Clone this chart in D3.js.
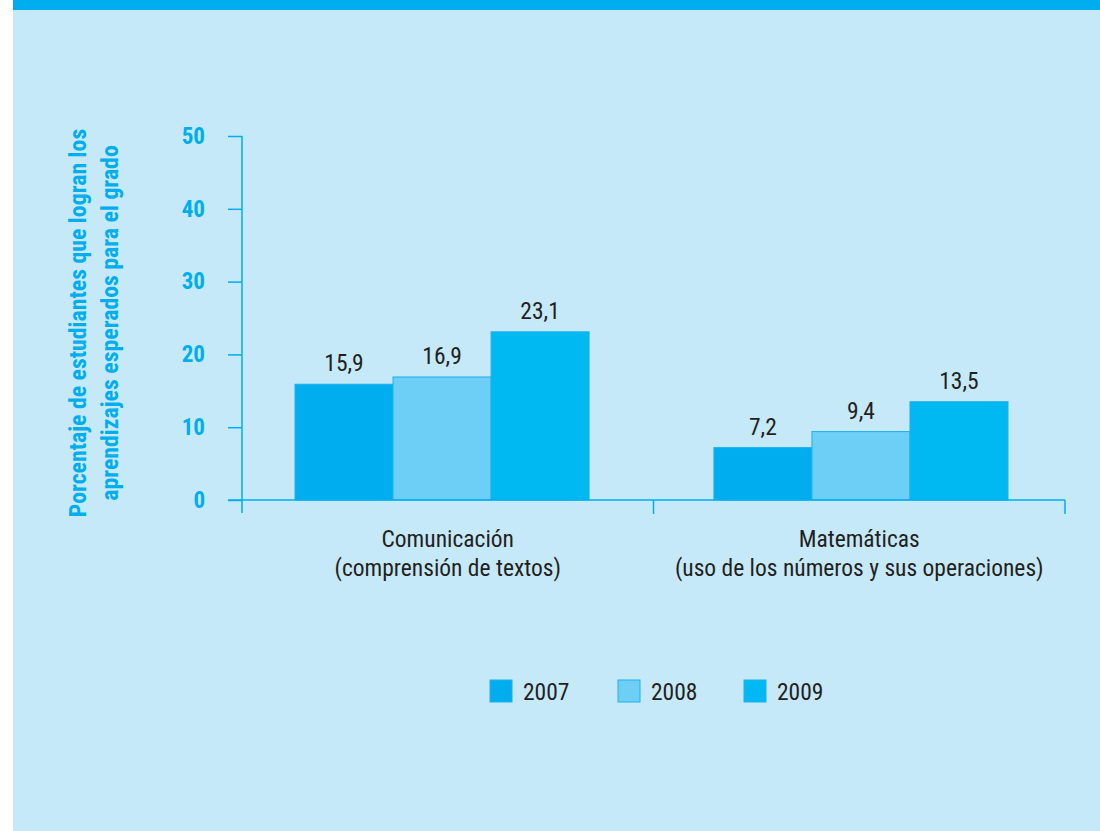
<!DOCTYPE html>
<html>
<head>
<meta charset="utf-8">
<script src="https://cdn.jsdelivr.net/npm/d3@7"></script>
<style>
  body { margin: 0; background: #ffffff; }
  text { font-family: "Liberation Sans Narrow", "Arial Narrow", "Roboto Condensed", sans-serif; }
</style>
</head>
<body>
<script>

// Data
var categories = ["Comunicación|(comprensión de textos)", "Matemáticas|(uso de los números y sus operaciones)"];
var years = ["2007", "2008", "2009"];
var values2007 = [15.9, 7.2];
var values2008 = [16.9, 9.4];
var values2009 = [23.1, 13.5];
var yTicks = [0, 10, 20, 30, 40, 50];

drawChart();

function drawChart(){

  var w = 1100;
  var h = 831;
  var cyan = "#00AEEF";
  var dark = "#231F20";
  var colors = {"2007": "#00AEEF", "2008": "#6DCFF6", "2009": "#00B9F2"};

  var svg = d3.select("body")
              .append("svg")
              .attr("width", w)
              .attr("height", h);

  // Panel background and top stripe
  svg.append("rect")
     .attr("x", 13).attr("y", 0)
     .attr("width", w - 13).attr("height", h)
     .attr("fill", "#C6E9F9");

  svg.append("rect")
     .attr("x", 13).attr("y", 0)
     .attr("width", w - 13).attr("height", 10)
     .attr("fill", cyan);

  // Build rows from the arrays
  var data = categories.map(function(c, i){
    return {cat: c, vals: [
      {year: "2007", v: values2007[i]},
      {year: "2008", v: values2008[i]},
      {year: "2009", v: values2009[i]}
    ]};
  });

  // Scales
  var yScale = d3.scaleLinear()
                 .domain([0, 50])
                 .range([500, 136]);

  // axis bands (ticks and labels)
  var x0 = d3.scaleBand()
             .domain(categories)
             .range([242, 1065])
             .paddingInner(0)
             .paddingOuter(0);

  // bar groups
  var xg = d3.scaleBand()
             .domain(categories)
             .range([295, 1008])
             .paddingInner(0.298)
             .paddingOuter(0);

  var x1 = d3.scaleBand()
             .domain(years)
             .range([0, xg.bandwidth()]);

  // Y axis
  var yAxis = svg.append("g")
                 .attr("transform", "translate(242, 0)")
                 .call(d3.axisLeft(yScale)
                         .tickValues(yTicks)
                         .tickSize(14)
                         .tickPadding(23));

  yAxis.select(".domain").remove();
  yAxis.selectAll("line").attr("stroke", cyan).attr("stroke-width", 1.5);
  yAxis.selectAll("text")
       .attr("fill", cyan)
       .attr("font-size", 23)
       .attr("font-weight", "bold")
       .attr("font-family", "Liberation Sans Narrow, Arial Narrow, sans-serif");

  svg.append("line")
     .attr("x1", 242).attr("x2", 242)
     .attr("y1", yScale(50)).attr("y2", 513)
     .attr("stroke", cyan).attr("stroke-width", 1.5);

  // Bars
  var groups = svg.selectAll(".group")
                  .data(data)
                  .enter()
                  .append("g")
                  .attr("class", "group")
                  .attr("transform", function(d){ return "translate(" + xg(d.cat) + ",0)"; });

  groups.selectAll("rect")
        .data(function(d){ return d.vals; })
        .enter()
        .append("rect")
        .attr("x", function(d){ return x1(d.year); })
        .attr("y", function(d){ return yScale(d.v); })
        .attr("width", x1.bandwidth())
        .attr("height", function(d){ return yScale(0) - yScale(d.v); })
        .attr("fill", function(d){ return colors[d.year]; })
        .attr("stroke", "#1FB1EC")
        .attr("stroke-width", 1);

  groups.selectAll(".val")
        .data(function(d){ return d.vals; })
        .enter()
        .append("text")
        .attr("class", "val")
        .attr("x", function(d){ return x1(d.year) + x1.bandwidth() / 2; })
        .attr("y", function(d){ return yScale(d.v) - 13; })
        .attr("text-anchor", "middle")
        .attr("font-size", 23.5)
        .attr("fill", dark)
        .text(function(d){ return String(d.v).replace(".", ","); });

  // X axis line and ticks
  svg.append("line")
     .attr("x1", 228).attr("x2", 1065)
     .attr("y1", yScale(0)).attr("y2", yScale(0))
     .attr("stroke", cyan).attr("stroke-width", 1.5);

  var edges = categories.map(function(c){ return x0(c); }).concat([x0.range()[1]]);
  svg.selectAll(".xtick")
     .data(edges.slice(1))
     .enter()
     .append("line")
     .attr("class", "xtick")
     .attr("x1", function(d){ return d; }).attr("x2", function(d){ return d; })
     .attr("y1", yScale(0)).attr("y2", 514)
     .attr("stroke", cyan).attr("stroke-width", 1.5);

  // Category labels (two lines)
  var catLabels = svg.selectAll(".cat")
                     .data(categories)
                     .enter()
                     .append("text")
                     .attr("class", "cat")
                     .attr("text-anchor", "middle")
                     .attr("font-size", 23.5)
                     .attr("fill", dark);

  catLabels.selectAll("tspan")
           .data(function(c){ return c.split("|").map(function(t){ return {c: c, t: t}; }); })
           .enter()
           .append("tspan")
           .attr("x", function(d){ return x0(d.c) + x0.bandwidth() / 2; })
           .attr("y", function(d, i){ return 547 + i * 29; })
           .text(function(d){ return d.t; });

  // Y axis title
  var yTitle = svg.append("text")
                  .attr("transform", "translate(0, 323) rotate(-90)")
                  .attr("text-anchor", "middle")
                  .attr("font-size", 23.8)
                  .attr("font-weight", "bold")
                  .attr("fill", cyan);

  yTitle.append("tspan").attr("x", 0).attr("y", 86)
        .text("Porcentaje de estudiantes que logran los");
  yTitle.append("tspan").attr("x", 0).attr("y", 118)
        .text("aprendizajes esperados para el grado");

  // Legend
  var legendX = [490, 618, 744];
  var legend = svg.selectAll(".legend")
                  .data(years)
                  .enter()
                  .append("g")
                  .attr("class", "legend")
                  .attr("transform", function(d, i){ return "translate(" + legendX[i] + ", 680)"; });

  legend.append("rect")
        .attr("width", 22).attr("height", 22)
        .attr("fill", function(d){ return colors[d]; })
        .attr("stroke", "#1FB1EC")
        .attr("stroke-width", 1);

  legend.append("text")
        .attr("x", 33)
        .attr("y", 20)
        .attr("font-size", 23.5)
        .attr("fill", dark)
        .text(function(d){ return d; });

};
</script>
</body>
</html>
